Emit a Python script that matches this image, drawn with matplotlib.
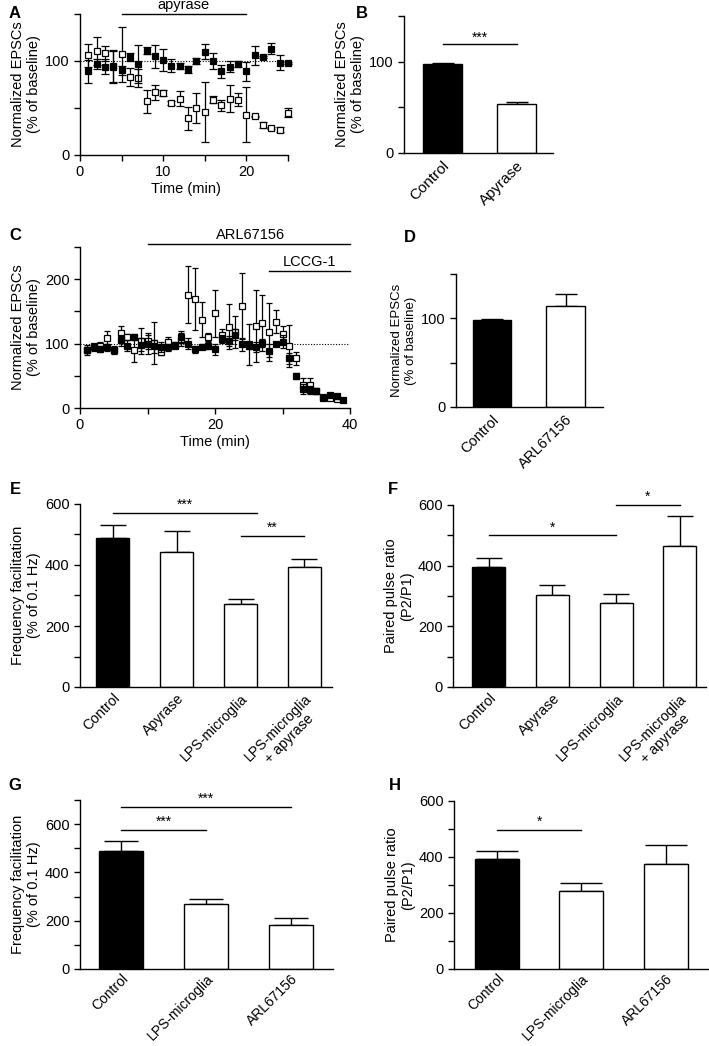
import matplotlib
matplotlib.use("Agg")
import matplotlib.pyplot as plt
import numpy as np

plt.rcParams['font.family'] = ['Liberation Sans', 'DejaVu Sans']
plt.rcParams['axes.linewidth'] = 1.0
plt.rcParams['xtick.major.width'] = 1.0
plt.rcParams['ytick.major.width'] = 1.0
plt.rcParams['xtick.major.size'] = 4
plt.rcParams['ytick.major.size'] = 4

# ---------------- Data ----------------
# Panel A (time course, apyrase)
a_time = list(range(1, 26))
a_ctrl = [89, 97, 94, 94, 90, 104, 97, 111, 105, 101, 95, 95, 91, 100, 110,
          100, 89, 94, 97, 89, 106, 104, 113, 98, 98]
a_ctrl_err = [12, 5, 8, 17, 5, 4, 20, 4, 12, 12, 7, 3, 4, 3, 8,
              8, 7, 6, 3, 10, 10, 1, 6, 8, 1]
a_apy = [106, 111, 108, 95, 107, 83, 82, 57, 67, 66, 55, 60, 39, 50, 46,
         59, 53, 60, 59, 43, 41, 32, 29, 27, 45]
a_apy_err = [12, 15, 8, 17, 29, 10, 10, 12, 8, 3, 2, 8, 12, 16, 32,
             4, 6, 14, 7, 29, 1, 3, 1, 3, 5]

# Panel B
b_labels = ["Control", "Apyrase"]
b_vals = [97, 54]
b_errs = [1, 1.5]

# Panel C (time course, ARL67156 + LCCG-1)
c_time_ctrl = list(range(1, 40))
c_ctrl = [90, 97, 92, 94, 90, 105, 97, 110, 98, 99, 96, 95, 94, 97, 111,
          100, 91, 95, 97, 91, 107, 104, 114, 99, 97, 95, 101, 89, 100, 103,
          77, 50, 30, 28, 26, 17, 20, 18, 12]
c_ctrl_err = [5, 3, 5, 6, 4, 8, 8, 5, 10, 15, 10, 8, 6, 4, 8,
              8, 5, 4, 5, 8, 6, 8, 8, 10, 6, 8, 6, 10, 2, 10,
              8, 5, 8, 6, 3, 3, 3, 4, 2]
c_time_arl = list(range(1, 39))
c_arl = [90, 94, 96, 108, 90, 116, 110, 90, 104, 104, 101, 87, 103, 98, 106,
         176, 169, 137, 110, 147, 114, 126, 118, 158, 99, 127, 132, 118, 134, 115,
         96, 77, 36, 36, 26, 16, 15, 14]
c_arl_err = [8, 5, 7, 12, 6, 12, 5, 18, 20, 12, 32, 5, 7, 5, 10,
             44, 48, 27, 6, 36, 8, 35, 25, 51, 32, 56, 44, 45, 18, 13,
             33, 10, 10, 10, 5, 4, 3, 3]

# Panel D
d_labels = ["Control", "ARL67156"]
d_vals = [98, 114]
d_errs = [0.8, 14]

# Panel E
e_labels = ["Control", "Apyrase", "LPS-microglia", "LPS-microglia\n+ apyrase"]
e_vals = [490, 444, 272, 395]
e_errs = [42, 69, 16, 24]

# Panel F
f_labels = ["Control", "Apyrase", "LPS-microglia", "LPS-microglia\n+ apyrase"]
f_vals = [394, 302, 277, 466]
f_errs = [30, 34, 30, 98]

# Panel G
g_labels = ["Control", "LPS-microglia", "ARL67156"]
g_vals = [487, 270, 183]
g_errs = [44, 18, 27]

# Panel H
h_labels = ["Control", "LPS-microglia", "ARL67156"]
h_vals = [392, 278, 374]
h_errs = [31, 30, 70]

# ---------------- Figure ----------------
W, H = 709, 1046
fig = plt.figure(figsize=(W / 100, H / 100), dpi=100)
TICK_FS = 10.5
LAB_FS = 10.5


def add_ax(left, right, top, bottom):
    ax = fig.add_axes([left / W, (H - bottom) / H, (right - left) / W, (bottom - top) / H])
    ax.spines['top'].set_visible(False)
    ax.spines['right'].set_visible(False)
    ax.tick_params(labelsize=TICK_FS, length=4, width=1)
    return ax


def panel_letter(x, y, s):
    fig.text(x / W, (H - y) / H, s, fontsize=12, fontweight='bold', ha='center', va='center')


def sig(ax, x1, x2, y, text, dy):
    ax.plot([x1, x2], [y, y], color='black', lw=1, clip_on=False)
    ax.text((x1 + x2) / 2, y + dy, text, ha='center', va='bottom', fontsize=10, clip_on=False)


def bar_panel(ax, labels, vals, errs, xlim, ylim, yticks, ylabels, fs=10.5, cap=9, pad=3):
    x = np.arange(len(vals))
    colors = ['black'] + ['white'] * (len(vals) - 1)
    ax.bar(x, vals, width=0.52, color=colors, edgecolor='black', linewidth=1, zorder=2)
    ax.errorbar(x, vals, yerr=[np.zeros(len(errs)), errs], fmt='none', ecolor='black',
                elinewidth=1, capsize=cap, capthick=1, zorder=1)
    ax.set_xlim(*xlim)
    ax.set_ylim(*ylim)
    ax.set_yticks(yticks)
    ax.set_yticklabels(ylabels)
    ax.set_xticks(x)
    ax.set_xticklabels(labels, rotation=45, ha='right', va='top', rotation_mode='anchor',
                       multialignment='center', fontsize=fs)
    ax.tick_params(axis='x', length=0, pad=pad)


# ---- Panel A ----
axA = add_ax(80, 292, 14, 155)
axA.plot([0, 25], [100, 100], color='black', lw=0.8, ls=(0, (1, 1.5)), zorder=0)
axA.errorbar(a_time, a_apy, yerr=a_apy_err, fmt='s', mfc='white', mec='black', ms=4.4,
             mew=0.9, ecolor='black', elinewidth=0.9, capsize=3, capthick=0.9, zorder=2)
axA.errorbar(a_time, a_ctrl, yerr=a_ctrl_err, fmt='s', mfc='black', mec='black', ms=4.4,
             mew=0.9, ecolor='black', elinewidth=0.9, capsize=3, capthick=0.9, zorder=3)
axA.set_xlim(0, 25.5)
axA.set_ylim(0, 150)
axA.spines['bottom'].set_bounds(0, 25)
axA.spines['left'].set_bounds(0, 150)
axA.set_xticks([0, 5, 10, 15, 20, 25])
axA.set_xticklabels(['0', '', '10', '', '20', ''])
axA.set_yticks([0, 50, 100, 150])
axA.set_yticklabels(['0', '', '100', ''])
axA.set_xlabel('Time (min)', fontsize=LAB_FS, labelpad=2)
axA.set_ylabel('Normalized EPSCs\n(% of baseline)', fontsize=LAB_FS, labelpad=3)
axA.plot([5, 20], [150, 150], color='black', lw=1, clip_on=False)
axA.text(12.5, 152, 'apyrase', ha='center', va='bottom', fontsize=LAB_FS, clip_on=False)
panel_letter(15, 14, 'A')

# ---- Panel B ----
axB = add_ax(404, 553, 16, 153)
bar_panel(axB, b_labels, b_vals, b_errs, (-0.52, 1.49), (0, 150), [0, 50, 100, 150],
          ['0', '', '100', ''], fs=11, cap=8, pad=4)
axB.set_ylabel('Normalized EPSCs\n(% of baseline)', fontsize=LAB_FS, labelpad=3)
sig(axB, 0, 1, 119, '***', 0)
panel_letter(362, 14, 'B')

# ---- Panel C ----
axC = add_ax(80, 350, 247, 408)
axC.plot([0, 40], [100, 100], color='black', lw=0.8, ls=(0, (1, 1.5)), zorder=0)
axC.errorbar(c_time_arl, c_arl, yerr=c_arl_err, fmt='s', mfc='white', mec='black', ms=3.9,
             mew=0.9, ecolor='black', elinewidth=0.9, capsize=2.5, capthick=0.9, zorder=2)
axC.errorbar(c_time_ctrl, c_ctrl, yerr=c_ctrl_err, fmt='s', mfc='black', mec='black', ms=3.9,
             mew=0.9, ecolor='black', elinewidth=0.9, capsize=2.5, capthick=0.9, zorder=3)
axC.set_xlim(0, 40)
axC.set_ylim(0, 250)
axC.set_xticks([0, 10, 20, 30, 40])
axC.set_xticklabels(['0', '', '20', '', '40'])
axC.set_yticks([0, 50, 100, 150, 200, 250])
axC.set_yticklabels(['0', '', '100', '', '200', ''])
axC.set_xlabel('Time (min)', fontsize=LAB_FS, labelpad=2)
axC.set_ylabel('Normalized EPSCs\n(% of baseline)', fontsize=LAB_FS, labelpad=3)
axC.plot([10, 40], [254, 254], color='black', lw=1, clip_on=False)
axC.text(25.2, 258, 'ARL67156', ha='center', va='bottom', fontsize=LAB_FS, clip_on=False)
axC.plot([28, 40], [212, 212], color='black', lw=1, clip_on=False)
axC.text(34, 216, 'LCCG-1', ha='center', va='bottom', fontsize=LAB_FS, clip_on=False)
panel_letter(15, 236, 'C')

# ---- Panel D ----
axD = add_ax(456, 603, 274, 407)
bar_panel(axD, d_labels, d_vals, d_errs, (-0.49, 1.51), (0, 150), [0, 50, 100, 150],
          ['0', '', '100', ''], fs=10.5, cap=8, pad=4)
axD.set_ylabel('Normalized EPSCs\n(% of baseline)', fontsize=9.5, labelpad=3)
panel_letter(410, 238, 'D')

# ---- Panel E ----
axE = add_ax(80, 332, 504, 687)
bar_panel(axE, e_labels, e_vals, e_errs, (-0.51, 3.43), (0, 600),
          [0, 100, 200, 300, 400, 500, 600], ['0', '', '200', '', '400', '', '600'],
          fs=10.2, cap=9.5, pad=3)
axE.set_ylabel('Frequency facilitation\n(% of 0.1 Hz)', fontsize=LAB_FS, labelpad=3)
sig(axE, 0, 2.26, 572, '***', 3)
sig(axE, 2.0, 3.0, 496, '**', 3)
panel_letter(15, 490, 'E')

# ---- Panel F ----
axF = add_ax(453, 706, 505, 687)
bar_panel(axF, f_labels, f_vals, f_errs, (-0.56, 3.41), (0, 600),
          [0, 100, 200, 300, 400, 500, 600], ['0', '', '200', '', '400', '', '600'],
          fs=10.2, cap=9.5, pad=3)
axF.set_ylabel('Paired pulse ratio\n(P2/P1)', fontsize=LAB_FS, labelpad=3)
sig(axF, 0, 2.0, 500, '*', 3)
sig(axF, 2.0, 3.0, 600, '*', 3)
panel_letter(393, 490, 'F')

# ---- Panel G ----
axG = add_ax(80, 333, 800, 969)
bar_panel(axG, g_labels, g_vals, g_errs, (-0.49, 2.5), (0, 700),
          [0, 100, 200, 300, 400, 500, 600, 700], ['0', '', '200', '', '400', '', '600', ''],
          fs=10, cap=12, pad=2)
axG.set_ylabel('Frequency facilitation\n(% of 0.1 Hz)', fontsize=LAB_FS, labelpad=3)
sig(axG, 0, 1.0, 577, '***', 3)
sig(axG, 0, 2.0, 673, '***', 3)
panel_letter(15, 785, 'G')

# ---- Panel H ----
axH = add_ax(454, 708, 801, 969)
bar_panel(axH, h_labels, h_vals, h_errs, (-0.51, 2.5), (0, 600),
          [0, 100, 200, 300, 400, 500, 600], ['0', '', '200', '', '400', '', '600'],
          fs=10, cap=15, pad=2)
axH.set_ylabel('Paired pulse ratio\n(P2/P1)', fontsize=LAB_FS, labelpad=3)
sig(axH, 0, 1.0, 498, '*', 3)
panel_letter(395, 785, 'H')

fig.savefig('out.png', dpi=100)
